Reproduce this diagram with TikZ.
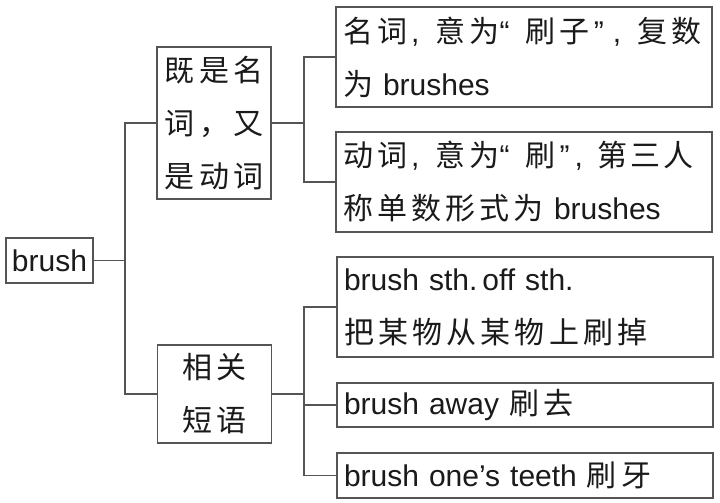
\documentclass[tikz,border=0pt]{standalone}
\usepackage{fontspec}
\setmainfont{Liberation Sans}
\newfontfamily\cjk[LetterSpace=14]{Noto Sans CJK SC}
\newcommand\zc{\hspace{4pt},\hspace{16pt}}
\newcommand\zlq{“\hspace{16pt}}
\newcommand\zrq{\hspace{4pt}”\hspace{5pt}}
\definecolor{linegray}{HTML}{555555}
\definecolor{ink}{HTML}{1A1A1A}
\begin{document}
\frenchspacing
\begin{tikzpicture}[x=1pt,y=-1pt,
  box/.style={draw=linegray,line width=1.3pt,text=ink,inner ysep=0pt,
    font=\fontsize{30}{53}\selectfont},
  leafbox/.style={box,minimum width=376pt,text width=362pt,inner xsep=7pt,align=left},
  midbox/.style={box,minimum width=114pt,text width=110pt,inner xsep=2pt,align=center},
  conn/.style={draw=linegray,line width=1.3pt}]
\useasboundingbox (0,0) rectangle (720,503);
\fill[white] (0,0) rectangle (720,503);
% nodes
\node[box,minimum width=87pt,minimum height=45pt,inner xsep=4pt] (brush) at (49.5,260.5) {brush};
\node[midbox,minimum height=152pt] (A) at (214,123) {{\cjk 既是名}\\{\cjk 词，又}\\{\cjk 是动词}};
\node[midbox,minimum height=98pt] (B) at (214.5,394) {{\cjk 相关}\\{\cjk 短语}};
\node[leafbox,minimum height=100pt] (r1) at (524,57) {{\cjk 名词}\zc{\cjk 意为}\zlq{\cjk 刷子}\zrq\zc{\cjk 复数}\\{\cjk 为} brushes};
\node[leafbox,minimum height=100pt] (r2) at (524,182) {{\cjk 动词}\zc{\cjk 意为}\zlq{\cjk 刷}\zrq,\hspace{14pt}{\cjk 第\hspace{3pt}三\hspace{3pt}人}\\{\cjk 称单数形式为} brushes};
\node[leafbox,minimum height=100pt] (r3) at (525,307) {brush sth.\,off sth.\\{\cjk 把某物从某物上刷掉}};
\node[leafbox,minimum height=44pt] (r4) at (525,405) {brush away {\cjk 刷去}};
\node[leafbox,minimum height=45pt] (r5) at (525,475.5) {brush one’s teeth {\cjk 刷牙}};
% trunks
\coordinate (t1) at (125,0);
\coordinate (t2) at (304,0);
% connectors
\draw[conn] (brush.east) -- (brush.east -| t1);
\draw[conn] (A.west) -- (A.west -| t1) -- (B.west -| t1) -- (B.west);
\draw[conn] (A.east) -- (A.east -| t2);
\draw[conn] (r1.west) -- (r1.west -| t2) -- (r2.west -| t2) -- (r2.west);
\draw[conn] (B.east) -- (B.east -| t2);
\draw[conn] (r3.west) -- (r3.west -| t2) -- (r5.west -| t2) -- (r5.west);
\draw[conn] (r4.west) -- (r4.west -| t2);
\end{tikzpicture}
\end{document}
